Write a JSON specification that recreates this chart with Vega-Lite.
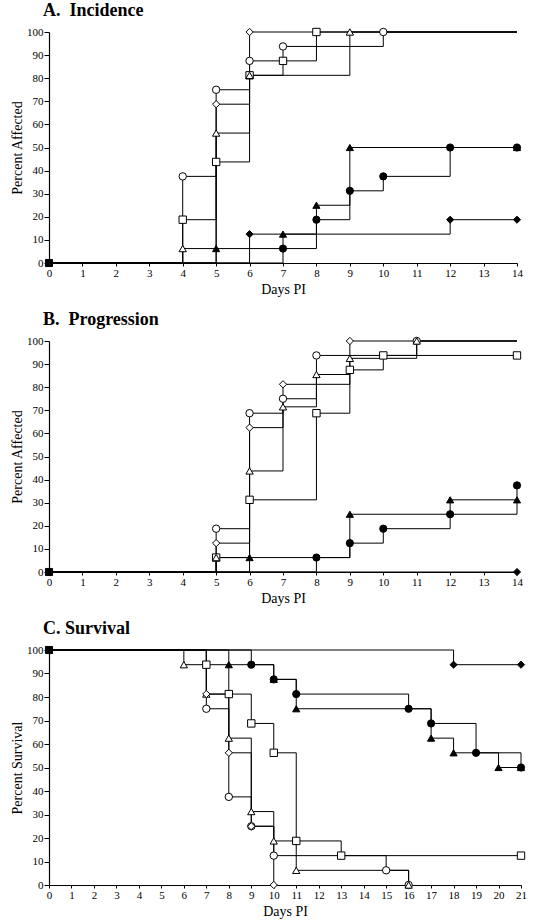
{
  "$schema": "https://vega.github.io/schema/vega-lite/v6.json",
  "padding": {"left": 10, "top": 2, "right": 5, "bottom": 5},
  "background": "white",
  "spacing": 15,
  "datasets": {
    "steps": [
      {"panel": "A", "series": "start", "day": 0, "pct": 0, "kind": "origin"},
      {"panel": "A", "series": "open circle", "day": 0, "pct": 0, "kind": "start"},
      {"panel": "A", "series": "open circle", "day": 4, "pct": 37.5, "kind": "event"},
      {"panel": "A", "series": "open circle", "day": 5, "pct": 75, "kind": "event"},
      {"panel": "A", "series": "open circle", "day": 6, "pct": 87.5, "kind": "event"},
      {"panel": "A", "series": "open circle", "day": 7, "pct": 93.75, "kind": "event"},
      {"panel": "A", "series": "open circle", "day": 10, "pct": 100, "kind": "event"},
      {"panel": "A", "series": "open circle", "day": 14, "pct": 100, "kind": "end"},
      {"panel": "A", "series": "open square", "day": 0, "pct": 0, "kind": "start"},
      {"panel": "A", "series": "open square", "day": 4, "pct": 18.75, "kind": "event"},
      {"panel": "A", "series": "open square", "day": 5, "pct": 43.75, "kind": "event"},
      {"panel": "A", "series": "open square", "day": 6, "pct": 81.25, "kind": "event"},
      {"panel": "A", "series": "open square", "day": 7, "pct": 87.5, "kind": "event"},
      {"panel": "A", "series": "open square", "day": 8, "pct": 100, "kind": "event"},
      {"panel": "A", "series": "open square", "day": 14, "pct": 100, "kind": "end"},
      {"panel": "A", "series": "open triangle", "day": 0, "pct": 0, "kind": "start"},
      {"panel": "A", "series": "open triangle", "day": 4, "pct": 6.25, "kind": "event"},
      {"panel": "A", "series": "open triangle", "day": 5, "pct": 56.25, "kind": "event"},
      {"panel": "A", "series": "open triangle", "day": 6, "pct": 81.25, "kind": "event"},
      {"panel": "A", "series": "open triangle", "day": 9, "pct": 100, "kind": "event"},
      {"panel": "A", "series": "open triangle", "day": 14, "pct": 100, "kind": "end"},
      {"panel": "A", "series": "open diamond", "day": 0, "pct": 0, "kind": "start"},
      {"panel": "A", "series": "open diamond", "day": 5, "pct": 68.75, "kind": "event"},
      {"panel": "A", "series": "open diamond", "day": 6, "pct": 100, "kind": "event"},
      {"panel": "A", "series": "open diamond", "day": 14, "pct": 100, "kind": "end"},
      {"panel": "A", "series": "filled circle", "day": 0, "pct": 0, "kind": "start"},
      {"panel": "A", "series": "filled circle", "day": 7, "pct": 6.25, "kind": "event"},
      {"panel": "A", "series": "filled circle", "day": 8, "pct": 18.75, "kind": "event"},
      {"panel": "A", "series": "filled circle", "day": 9, "pct": 31.25, "kind": "event"},
      {"panel": "A", "series": "filled circle", "day": 10, "pct": 37.5, "kind": "event"},
      {"panel": "A", "series": "filled circle", "day": 12, "pct": 50, "kind": "event"},
      {"panel": "A", "series": "filled circle", "day": 14, "pct": 50, "kind": "censored"},
      {"panel": "A", "series": "filled triangle", "day": 0, "pct": 0, "kind": "start"},
      {"panel": "A", "series": "filled triangle", "day": 5, "pct": 6.25, "kind": "event"},
      {"panel": "A", "series": "filled triangle", "day": 7, "pct": 12.5, "kind": "event"},
      {"panel": "A", "series": "filled triangle", "day": 8, "pct": 25, "kind": "event"},
      {"panel": "A", "series": "filled triangle", "day": 9, "pct": 50, "kind": "event"},
      {"panel": "A", "series": "filled triangle", "day": 14, "pct": 50, "kind": "censored"},
      {"panel": "A", "series": "filled diamond", "day": 0, "pct": 0, "kind": "start"},
      {"panel": "A", "series": "filled diamond", "day": 6, "pct": 12.5, "kind": "event"},
      {"panel": "A", "series": "filled diamond", "day": 12, "pct": 18.75, "kind": "event"},
      {"panel": "A", "series": "filled diamond", "day": 14, "pct": 18.75, "kind": "censored"},

      {"panel": "B", "series": "start", "day": 0, "pct": 0, "kind": "origin"},
      {"panel": "B", "series": "open circle", "day": 0, "pct": 0, "kind": "start"},
      {"panel": "B", "series": "open circle", "day": 5, "pct": 18.75, "kind": "event"},
      {"panel": "B", "series": "open circle", "day": 6, "pct": 68.75, "kind": "event"},
      {"panel": "B", "series": "open circle", "day": 7, "pct": 75, "kind": "event"},
      {"panel": "B", "series": "open circle", "day": 8, "pct": 93.75, "kind": "event"},
      {"panel": "B", "series": "open circle", "day": 11, "pct": 100, "kind": "event"},
      {"panel": "B", "series": "open circle", "day": 14, "pct": 100, "kind": "end"},
      {"panel": "B", "series": "open square", "day": 0, "pct": 0, "kind": "start"},
      {"panel": "B", "series": "open square", "day": 5, "pct": 6.25, "kind": "event"},
      {"panel": "B", "series": "open square", "day": 6, "pct": 31.25, "kind": "event"},
      {"panel": "B", "series": "open square", "day": 8, "pct": 68.75, "kind": "event"},
      {"panel": "B", "series": "open square", "day": 9, "pct": 87.5, "kind": "event"},
      {"panel": "B", "series": "open square", "day": 10, "pct": 93.75, "kind": "event"},
      {"panel": "B", "series": "open square", "day": 14, "pct": 93.75, "kind": "censored"},
      {"panel": "B", "series": "open triangle", "day": 0, "pct": 0, "kind": "start"},
      {"panel": "B", "series": "open triangle", "day": 5, "pct": 6.25, "kind": "event"},
      {"panel": "B", "series": "open triangle", "day": 6, "pct": 43.75, "kind": "event"},
      {"panel": "B", "series": "open triangle", "day": 7, "pct": 71.5, "kind": "event"},
      {"panel": "B", "series": "open triangle", "day": 8, "pct": 85.5, "kind": "event"},
      {"panel": "B", "series": "open triangle", "day": 9, "pct": 92.5, "kind": "event"},
      {"panel": "B", "series": "open triangle", "day": 11, "pct": 100, "kind": "event"},
      {"panel": "B", "series": "open triangle", "day": 14, "pct": 100, "kind": "end"},
      {"panel": "B", "series": "open diamond", "day": 0, "pct": 0, "kind": "start"},
      {"panel": "B", "series": "open diamond", "day": 5, "pct": 12.5, "kind": "event"},
      {"panel": "B", "series": "open diamond", "day": 6, "pct": 62.5, "kind": "event"},
      {"panel": "B", "series": "open diamond", "day": 7, "pct": 81.25, "kind": "event"},
      {"panel": "B", "series": "open diamond", "day": 9, "pct": 100, "kind": "event"},
      {"panel": "B", "series": "open diamond", "day": 14, "pct": 100, "kind": "end"},
      {"panel": "B", "series": "filled circle", "day": 0, "pct": 0, "kind": "start"},
      {"panel": "B", "series": "filled circle", "day": 8, "pct": 6.25, "kind": "event"},
      {"panel": "B", "series": "filled circle", "day": 9, "pct": 12.5, "kind": "event"},
      {"panel": "B", "series": "filled circle", "day": 10, "pct": 18.75, "kind": "event"},
      {"panel": "B", "series": "filled circle", "day": 12, "pct": 25, "kind": "event"},
      {"panel": "B", "series": "filled circle", "day": 14, "pct": 37.5, "kind": "event"},
      {"panel": "B", "series": "filled triangle", "day": 0, "pct": 0, "kind": "start"},
      {"panel": "B", "series": "filled triangle", "day": 6, "pct": 6.25, "kind": "event"},
      {"panel": "B", "series": "filled triangle", "day": 9, "pct": 25, "kind": "event"},
      {"panel": "B", "series": "filled triangle", "day": 12, "pct": 31.25, "kind": "event"},
      {"panel": "B", "series": "filled triangle", "day": 14, "pct": 31.25, "kind": "censored"},
      {"panel": "B", "series": "filled diamond", "day": 0, "pct": 0, "kind": "start"},
      {"panel": "B", "series": "filled diamond", "day": 14, "pct": 0, "kind": "censored"},

      {"panel": "C", "series": "start", "day": 0, "pct": 100, "kind": "origin"},
      {"panel": "C", "series": "open circle", "day": 0, "pct": 100, "kind": "start"},
      {"panel": "C", "series": "open circle", "day": 7, "pct": 75, "kind": "event"},
      {"panel": "C", "series": "open circle", "day": 8, "pct": 37.5, "kind": "event"},
      {"panel": "C", "series": "open circle", "day": 9, "pct": 25, "kind": "event"},
      {"panel": "C", "series": "open circle", "day": 10, "pct": 12.5, "kind": "event"},
      {"panel": "C", "series": "open circle", "day": 15, "pct": 6.25, "kind": "event"},
      {"panel": "C", "series": "open circle", "day": 16, "pct": 0, "kind": "event"},
      {"panel": "C", "series": "open square", "day": 0, "pct": 100, "kind": "start"},
      {"panel": "C", "series": "open square", "day": 7, "pct": 93.75, "kind": "event"},
      {"panel": "C", "series": "open square", "day": 8, "pct": 81.25, "kind": "event"},
      {"panel": "C", "series": "open square", "day": 9, "pct": 68.75, "kind": "event"},
      {"panel": "C", "series": "open square", "day": 10, "pct": 56.25, "kind": "event"},
      {"panel": "C", "series": "open square", "day": 11, "pct": 18.75, "kind": "event"},
      {"panel": "C", "series": "open square", "day": 13, "pct": 12.5, "kind": "event"},
      {"panel": "C", "series": "open square", "day": 21, "pct": 12.5, "kind": "censored"},
      {"panel": "C", "series": "open triangle", "day": 0, "pct": 100, "kind": "start"},
      {"panel": "C", "series": "open triangle", "day": 6, "pct": 93.75, "kind": "event"},
      {"panel": "C", "series": "open triangle", "day": 7, "pct": 81.25, "kind": "event"},
      {"panel": "C", "series": "open triangle", "day": 8, "pct": 62.5, "kind": "event"},
      {"panel": "C", "series": "open triangle", "day": 9, "pct": 31.25, "kind": "event"},
      {"panel": "C", "series": "open triangle", "day": 10, "pct": 18.75, "kind": "event"},
      {"panel": "C", "series": "open triangle", "day": 11, "pct": 6.25, "kind": "event"},
      {"panel": "C", "series": "open triangle", "day": 16, "pct": 0, "kind": "event"},
      {"panel": "C", "series": "open diamond", "day": 0, "pct": 100, "kind": "start"},
      {"panel": "C", "series": "open diamond", "day": 7, "pct": 81.25, "kind": "event"},
      {"panel": "C", "series": "open diamond", "day": 8, "pct": 56.25, "kind": "event"},
      {"panel": "C", "series": "open diamond", "day": 9, "pct": 25, "kind": "event"},
      {"panel": "C", "series": "open diamond", "day": 10, "pct": 0, "kind": "event"},
      {"panel": "C", "series": "filled circle", "day": 0, "pct": 100, "kind": "start"},
      {"panel": "C", "series": "filled circle", "day": 9, "pct": 93.75, "kind": "event"},
      {"panel": "C", "series": "filled circle", "day": 10, "pct": 87.5, "kind": "event"},
      {"panel": "C", "series": "filled circle", "day": 11, "pct": 81.25, "kind": "event"},
      {"panel": "C", "series": "filled circle", "day": 16, "pct": 75, "kind": "event"},
      {"panel": "C", "series": "filled circle", "day": 17, "pct": 68.75, "kind": "event"},
      {"panel": "C", "series": "filled circle", "day": 19, "pct": 56.25, "kind": "event"},
      {"panel": "C", "series": "filled circle", "day": 21, "pct": 50, "kind": "event"},
      {"panel": "C", "series": "filled triangle", "day": 0, "pct": 100, "kind": "start"},
      {"panel": "C", "series": "filled triangle", "day": 8, "pct": 93.75, "kind": "event"},
      {"panel": "C", "series": "filled triangle", "day": 10, "pct": 87.5, "kind": "event"},
      {"panel": "C", "series": "filled triangle", "day": 11, "pct": 75, "kind": "event"},
      {"panel": "C", "series": "filled triangle", "day": 17, "pct": 62.5, "kind": "event"},
      {"panel": "C", "series": "filled triangle", "day": 18, "pct": 56.25, "kind": "event"},
      {"panel": "C", "series": "filled triangle", "day": 20, "pct": 50, "kind": "event"},
      {"panel": "C", "series": "filled triangle", "day": 21, "pct": 50, "kind": "censored"},
      {"panel": "C", "series": "filled diamond", "day": 0, "pct": 100, "kind": "start"},
      {"panel": "C", "series": "filled diamond", "day": 18, "pct": 93.75, "kind": "event"},
      {"panel": "C", "series": "filled diamond", "day": 21, "pct": 93.75, "kind": "censored"}
    ]
  },
  "vconcat": [
    {
      "title": {"text": "A.\u00a0\u00a0Incidence"},
      "width": 468,
      "height": 231,
      "data": {"name": "steps"},
      "transform": [{"filter": "datum.panel === 'A'"}],
      "encoding": {
        "x": {"field": "day", "type": "quantitative", "scale": {"domain": [0, 14], "nice": false}, "axis": {"values": [0,1,2,3,4,5,6,7,8,9,10,11,12,13,14], "title": "Days PI"}},
        "y": {"field": "pct", "type": "quantitative", "scale": {"domain": [0, 100], "nice": false}, "axis": {"values": [0,10,20,30,40,50,60,70,80,90,100], "title": "Percent Affected"}}
      },
      "layer": [
        {
          "transform": [{"filter": "datum.series !== 'start'"}],
          "mark": {"type": "line", "interpolate": "step-after", "color": "black", "strokeWidth": 1},
          "encoding": {"detail": {"field": "series"}}
        },
        {
          "transform": [{"filter": "datum.kind !== 'start' && datum.kind !== 'end'"}],
          "mark": {"type": "point", "filled": true, "stroke": "black", "strokeWidth": 1, "opacity": 1},
          "encoding": {
            "shape": {"field": "series", "scale": {"domain": ["open circle","open square","open triangle","open diamond","filled circle","filled triangle","filled diamond","start"], "range": ["circle","square","triangle-up","diamond","circle","triangle-up","diamond","square"]}, "legend": null},
            "fill": {"field": "series", "scale": {"domain": ["open circle","open square","open triangle","open diamond","filled circle","filled triangle","filled diamond","start"], "range": ["white","white","white","white","black","black","black","black"]}, "legend": null},
            "size": {"field": "series", "scale": {"domain": ["open circle","open square","open triangle","open diamond","filled circle","filled triangle","filled diamond","start"], "range": [55,50,50,30,55,50,30,50]}, "legend": null}
          }
        }
      ]
    },
    {
      "title": {"text": "B.\u00a0\u00a0Progression"},
      "width": 468,
      "height": 231,
      "data": {"name": "steps"},
      "transform": [{"filter": "datum.panel === 'B'"}],
      "encoding": {
        "x": {"field": "day", "type": "quantitative", "scale": {"domain": [0, 14], "nice": false}, "axis": {"values": [0,1,2,3,4,5,6,7,8,9,10,11,12,13,14], "title": "Days PI"}},
        "y": {"field": "pct", "type": "quantitative", "scale": {"domain": [0, 100], "nice": false}, "axis": {"values": [0,10,20,30,40,50,60,70,80,90,100], "title": "Percent Affected"}}
      },
      "layer": [
        {
          "transform": [{"filter": "datum.series !== 'start'"}],
          "mark": {"type": "line", "interpolate": "step-after", "color": "black", "strokeWidth": 1},
          "encoding": {"detail": {"field": "series"}}
        },
        {
          "transform": [{"filter": "datum.kind !== 'start' && datum.kind !== 'end'"}],
          "mark": {"type": "point", "filled": true, "stroke": "black", "strokeWidth": 1, "opacity": 1},
          "encoding": {
            "shape": {"field": "series", "legend": null},
            "fill": {"field": "series", "legend": null},
            "size": {"field": "series", "legend": null}
          }
        }
      ]
    },
    {
      "title": {"text": "C. Survival"},
      "width": 472,
      "height": 235,
      "data": {"name": "steps"},
      "transform": [{"filter": "datum.panel === 'C'"}],
      "encoding": {
        "x": {"field": "day", "type": "quantitative", "scale": {"domain": [0, 21], "nice": false}, "axis": {"values": [0,1,2,3,4,5,6,7,8,9,10,11,12,13,14,15,16,17,18,19,20,21], "title": "Days PI"}},
        "y": {"field": "pct", "type": "quantitative", "scale": {"domain": [0, 100], "nice": false}, "axis": {"values": [0,10,20,30,40,50,60,70,80,90,100], "title": "Percent Survival"}}
      },
      "layer": [
        {
          "transform": [{"filter": "datum.series !== 'start'"}],
          "mark": {"type": "line", "interpolate": "step-after", "color": "black", "strokeWidth": 1},
          "encoding": {"detail": {"field": "series"}}
        },
        {
          "transform": [{"filter": "datum.kind !== 'start' && datum.kind !== 'end'"}],
          "mark": {"type": "point", "filled": true, "stroke": "black", "strokeWidth": 1, "opacity": 1},
          "encoding": {
            "shape": {"field": "series", "legend": null},
            "fill": {"field": "series", "legend": null},
            "size": {"field": "series", "legend": null}
          }
        }
      ]
    }
  ],
  "resolve": {"scale": {"x": "independent", "y": "independent"}},
  "config": {
    "view": {"stroke": null},
    "font": "Liberation Serif",
    "title": {"font": "Liberation Serif", "fontSize": 18, "fontWeight": "bold", "anchor": "start", "frame": "group", "dx": -6, "color": "black", "offset": 6},
    "axis": {"grid": false, "domainColor": "black", "tickColor": "black", "labelColor": "black", "titleColor": "black", "labelFont": "Liberation Serif", "titleFont": "Liberation Serif", "labelFontSize": 11, "titleFontSize": 14, "titleFontWeight": "normal", "domainWidth": 1.2, "tickWidth": 1, "labelOverlap": false, "labelBound": false},
    "axisX": {"tickSize": 3, "labelPadding": 1, "titlePadding": 4, "labelFlush": false},
    "axisY": {"tickSize": 5, "labelPadding": 1, "titlePadding": 2, "labelFlush": false}
  }
}
